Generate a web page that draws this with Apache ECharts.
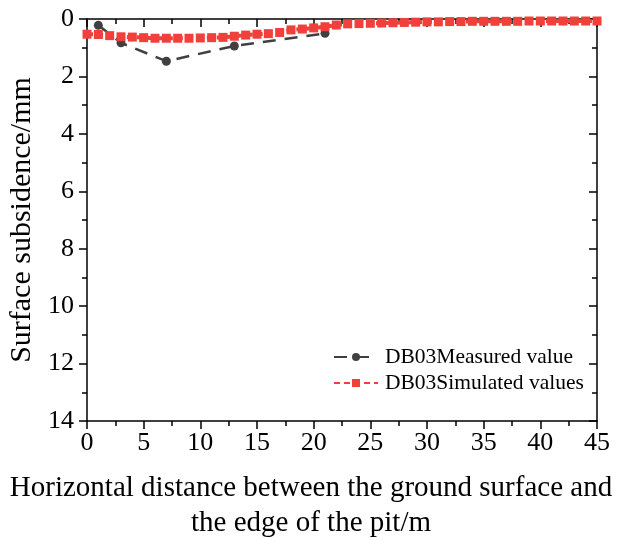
<!DOCTYPE html>
<html><head><meta charset="utf-8">
<script src="https://cdn.jsdelivr.net/npm/echarts@6/dist/echarts.min.js"></script>
<style>html,body{margin:0;padding:0;background:#fff}#c{width:622px;height:540px}</style>
</head><body><div id="c"></div>
<script>
const measuredX = [1, 3, 7, 13, 21];
const measuredY = [0.22, 0.83, 1.47, 0.94, 0.5];
const simX = [0,1,2,3,4,5,6,7,8,9,10,11,12,13,14,15,16,17,18,19,20,21,22,23,24,25,26,27,28,29,30,31,32,33,34,35,36,37,38,39,40,41,42,43,44,45];
const simY = [0.53,0.54,0.58,0.62,0.63,0.65,0.67,0.67,0.67,0.67,0.66,0.65,0.64,0.6,0.56,0.53,0.51,0.47,0.38,0.35,0.31,0.27,0.21,0.17,0.16,0.15,0.14,0.13,0.12,0.11,0.1,0.1,0.09,0.09,0.08,0.08,0.08,0.08,0.08,0.07,0.07,0.07,0.07,0.07,0.07,0.07];
const xTicks = [0,5,10,15,20,25,30,35,40,45];
const yTicks = [0,2,4,6,8,10,12,14];
const names = ['DB03Measured value','DB03Simulated values'];
const xTitleLines = ['Horizontal distance between the ground surface and', 'the edge of the pit/m'];
const yTitle = 'Surface subsidence/mm';

const font = 'Liberation Serif';
const chart = echarts.init(document.getElementById('c'));
const axLine = {show:true, onZero:false, lineStyle:{color:'#000', width:1.5}};
const tk = (inside)=>({show:true,inside:inside,length:8,lineStyle:{color:'#000',width:1.5}});
const mtk = {show:true,splitNumber:2,length:5,lineStyle:{color:'#000',width:1.5}};
chart.setOption({
  animation:false,
  textStyle:{fontFamily:font},
  grid:{left:87,right:25,top:19,bottom:119,containLabel:false,outerBoundsMode:'none'},
  legend:{
    orient:'vertical', left:328, top:341, itemGap:4,
    itemWidth:44, itemHeight:10,
    textStyle:{fontFamily:font,fontSize:21.5,color:'#000',padding:[0,0,0,2]},
    data:names
  },
  graphic:xTitleLines.map((t,i)=>({
    type:'text', x:311, y:488 + i*35,
    style:{text:t, fontFamily:font, fontSize:29, fill:'#000', align:'center', verticalAlign:'middle'}
  })),
  xAxis:[{
    type:'value', min:0, max:45, interval:5, position:'bottom',
    axisLine:axLine, axisTick:tk(false), minorTick:mtk,
    splitLine:{show:false},
    axisLabel:{fontFamily:font,fontSize:26,color:'#000',margin:9,
      formatter:v=>xTicks.includes(v)?String(v):''}
  },{
    type:'value', min:0, max:45, interval:5, position:'top',
    axisLine:axLine, axisTick:tk(true), minorTick:mtk,
    axisLabel:{show:false}, splitLine:{show:false}
  }],
  yAxis:[{
    type:'value', min:0, max:14, interval:2, inverse:true, position:'left',
    axisLine:axLine, axisTick:tk(false), minorTick:mtk,
    splitLine:{show:false},
    axisLabel:{fontFamily:font,fontSize:26,color:'#000',margin:13,
      formatter:v=>yTicks.includes(v)?String(v):''},
    name:yTitle, nameLocation:'middle', nameGap:44,
    nameTextStyle:{fontFamily:font,fontSize:30,color:'#000'}
  },{
    type:'value', min:0, max:14, interval:2, inverse:true, position:'right',
    axisLine:axLine, axisTick:tk(true), minorTick:mtk,
    axisLabel:{show:false}, splitLine:{show:false}
  }],
  series:[{
    name:names[0], type:'line', xAxisIndex:0, yAxisIndex:0,
    data:measuredX.map((x,i)=>[x,measuredY[i]]),
    symbol:'circle', symbolSize:9,
    itemStyle:{color:'#404040'},
    lineStyle:{color:'#404040',width:2.5,type:[13,9]},
    z:2
  },{
    name:names[1], type:'line', xAxisIndex:0, yAxisIndex:0,
    data:simX.map((x,i)=>[x,simY[i]]),
    symbol:'rect', symbolSize:9,
    itemStyle:{color:'#F0403C'},
    lineStyle:{color:'#F0403C',width:4,type:[6,4]},
    z:3
  }]
});
</script></body></html>
